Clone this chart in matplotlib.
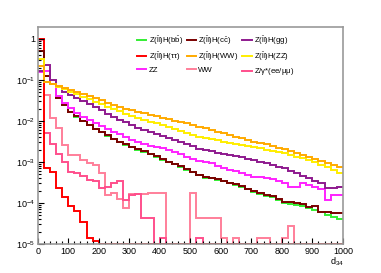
import numpy as np
import matplotlib
matplotlib.use("Agg")
import matplotlib.pyplot as plt
from matplotlib.ticker import FixedLocator, FuncFormatter, MultipleLocator
from matplotlib.lines import Line2D

plt.rcParams['font.family'] = ['Liberation Sans', 'DejaVu Sans']
plt.rcParams['mathtext.fontset'] = 'custom'
plt.rcParams['mathtext.rm'] = 'Liberation Sans'
plt.rcParams['mathtext.it'] = 'Liberation Sans'
plt.rcParams['mathtext.sf'] = 'Liberation Sans'

# ---- data: 50 bins of width 20 on d34 in [0, 1000] ----
bin_edges = np.arange(0, 1001, 20)

zh_bb = [0.51, 0.126, 0.0794, 0.0355, 0.0240, 0.0166, 0.0126, 0.0100, 0.00794, 0.00631,
         0.00525, 0.00437, 0.00363, 0.00302, 0.00263, 0.00229, 0.00200, 0.00178, 0.00155, 0.00135,
         0.00115, 0.00100, 0.000870, 0.000760, 0.000646, 0.000562, 0.000479, 0.000417, 0.000398, 0.000372,
         0.000339, 0.000302, 0.000282, 0.000251, 0.000214, 0.000191, 0.000170, 0.000151, 0.000141, 0.000120,
         0.000100, 0.0000955, 0.0000912, 0.0000851, 0.0000741, 0.0000661, 0.0000589, 0.0000525, 0.0000457, 0.0000398]
zh_cc = [0.50, 0.126, 0.0794, 0.0363, 0.0245, 0.0170, 0.0129, 0.0102, 0.00813, 0.00646,
         0.00537, 0.00447, 0.00372, 0.00309, 0.00269, 0.00234, 0.00204, 0.00182, 0.00158, 0.00138,
         0.00118, 0.00102, 0.000890, 0.000780, 0.000660, 0.000575, 0.000490, 0.000427, 0.000407, 0.000380,
         0.000347, 0.000309, 0.000288, 0.000257, 0.000219, 0.000195, 0.000174, 0.000155, 0.000145, 0.000126,
         0.000107, 0.000105, 0.000100, 0.0000933, 0.0000813, 0.0000832, 0.0000617, 0.0000589, 0.0000575, 0.0000575]
zh_gg = [0.166, 0.234, 0.0977, 0.0676, 0.0513, 0.0427, 0.0363, 0.0309, 0.0263, 0.0219,
         0.0182, 0.0151, 0.0126, 0.0107, 0.00933, 0.00794, 0.00676, 0.00603, 0.00537, 0.00479,
         0.00427, 0.00380, 0.00339, 0.00302, 0.00269, 0.00240, 0.00209, 0.00195, 0.00182, 0.00170,
         0.00158, 0.00148, 0.00138, 0.00129, 0.00120, 0.00112, 0.00102, 0.000933, 0.000851, 0.000776,
         0.000708, 0.000617, 0.000537, 0.000468, 0.000398, 0.000347, 0.000302, 0.000229, 0.000234, 0.000240]
zh_tautau = [0.999, 0.000708, 0.000575, 0.000229, 0.000141, 0.0000851, 0.0000631, 0.0000347, 0.0000138, 0.0000120,
             0, 0, 0, 0, 0, 0, 0, 0, 0, 0,
             0, 0, 0, 0, 0, 0, 0, 0, 0, 0,
             0, 0, 0, 0, 0, 0, 0, 0, 0, 0,
             0, 0, 0, 0, 0, 0, 0, 0, 0, 0]
zh_ww = [0.214, 0.0912, 0.0794, 0.0708, 0.0631, 0.0562, 0.0501, 0.0447, 0.0398, 0.0355,
         0.0316, 0.0282, 0.0251, 0.0224, 0.0200, 0.0182, 0.0166, 0.0155, 0.0141, 0.0132,
         0.0120, 0.0112, 0.0102, 0.00933, 0.00871, 0.00794, 0.00724, 0.00661, 0.00603, 0.00550,
         0.00501, 0.00457, 0.00417, 0.00380, 0.00347, 0.00316, 0.00295, 0.00269, 0.00245, 0.00224,
         0.00204, 0.00186, 0.00170, 0.00151, 0.00135, 0.00120, 0.00107, 0.000955, 0.000851, 0.000741]
zh_zz = [0.316, 0.0871, 0.0776, 0.0676, 0.0589, 0.0513, 0.0447, 0.0389, 0.0339, 0.0295,
         0.0257, 0.0224, 0.0200, 0.0174, 0.0151, 0.0132, 0.0117, 0.0107, 0.00955, 0.00871,
         0.00776, 0.00708, 0.00631, 0.00575, 0.00513, 0.00468, 0.00417, 0.00389, 0.00363, 0.00339,
         0.00316, 0.00295, 0.00275, 0.00263, 0.00245, 0.00229, 0.00214, 0.00200, 0.00186, 0.00174,
         0.00162, 0.00148, 0.00135, 0.00123, 0.00112, 0.000977, 0.000851, 0.000741, 0.000646, 0.000550]
zz = [0.158, 0.166, 0.0794, 0.0417, 0.0282, 0.0209, 0.0158, 0.0126, 0.0105, 0.00871,
      0.00741, 0.00631, 0.00550, 0.00479, 0.00417, 0.00339, 0.00302, 0.00275, 0.00251, 0.00234,
      0.00214, 0.00195, 0.00178, 0.00155, 0.00135, 0.00120, 0.00105, 0.00100, 0.000933, 0.000813,
      0.000724, 0.000631, 0.000589, 0.000537, 0.000490, 0.000437, 0.000427, 0.000398, 0.000380, 0.000347,
      0.000316, 0.000251, 0.000251, 0.000316, 0.000282, 0.000251, 0.000224, 0.000117, 0.000158, 0.000158]
ww = [0.95, 0.0427, 0.0117, 0.00661, 0.00257, 0.00148, 0.00148, 0.00112, 0.000933, 0.000851,
      0.000525, 0.000158, 0.000178, 0.000126, 0.0000741, 0.000170, 0.000170, 0.000170, 0.000174, 0.000174,
      0.000174, 0, 0, 0, 0, 0.000174, 0.0000427, 0.0000427, 0.0000427, 0.0000427,
      0.0000138, 0, 0.0000138, 0, 0, 0, 0.0000138, 0.0000138, 0, 0,
      0.0000138, 0.0000282, 0, 0, 0, 0, 0, 0, 0, 0]
zgamma = [1.0, 0.00501, 0.00282, 0.00158, 0.00100, 0.000575, 0.000525, 0.000447, 0.000363, 0.000339,
          0.000229, 0.000251, 0.000302, 0.000339, 0.000117, 0.000158, 0.000170, 0.0000427, 0.0000427, 0,
          0.0000138, 0, 0, 0, 0, 0, 0.0000138, 0, 0, 0,
          0, 0, 0, 0, 0, 0, 0, 0, 0, 0,
          0, 0, 0, 0, 0, 0, 0, 0, 0, 0]

series = [
    (r"Z($\bar{l}l$)H($b\bar{b}$)", zh_bb, "#33ee33"),
    (r"Z($\bar{l}l$)H($c\bar{c}$)", zh_cc, "#7a0000"),
    (r"Z($\bar{l}l$)H(gg)", zh_gg, "#8e1a8e"),
    (r"Z($\bar{l}l$)H($\tau\tau$)", zh_tautau, "#ff0000"),
    (r"Z($\bar{l}l$)H(WW)", zh_ww, "#ffaa00"),
    (r"Z($\bar{l}l$)H(ZZ)", zh_zz, "#ffee00"),
    ("ZZ", zz, "#ff22ff"),
    ("WW", ww, "#ff7f9a"),
    (r"Z/$\gamma$*(ee/$\mu\mu$)", zgamma, "#ff4f8c"),
]

YMIN, YMAX = 1e-5, 1.95

fig = plt.figure(figsize=(3.81, 2.73), dpi=100)
ax = fig.add_axes([0.099, 0.106, 0.801, 0.795])

draw_order = [7, 8, 3, 0, 1, 6, 2, 5, 4]
for i in draw_order:
    lab, vals, col = series[i]
    v = np.maximum(np.asarray(vals, float), YMIN)
    ax.stairs(v, bin_edges, color=col, lw=1.4, baseline=None)

ax.set_yscale('log')
ax.set_xlim(0, 1000)
ax.set_ylim(YMIN, YMAX)

ax.xaxis.set_major_locator(MultipleLocator(100))
ax.xaxis.set_minor_locator(MultipleLocator(20))
ax.yaxis.set_major_locator(FixedLocator([1e-5, 1e-4, 1e-3, 1e-2, 1e-1, 1]))
ax.yaxis.set_minor_locator(FixedLocator([m * 10.0**e for e in range(-5, 1) for m in range(2, 10)]))

def yfmt(v, pos):
    e = int(round(np.log10(v)))
    if e == 0:
        return "1"
    return r"$10^{%d}$" % e

ax.yaxis.set_major_formatter(FuncFormatter(yfmt))
ax.tick_params(which='both', direction='in', top=False, right=False, labelsize=6.5, color='black', width=0.8)
ax.tick_params(which='major', length=4.5, pad=2)
ax.tick_params(which='minor', length=2.2)
for s in ax.spines.values():
    s.set_color('#999999')
    s.set_linewidth(1.2)

fig.text(0.885, 0.04, r"d$_{34}$", fontsize=6.5, ha='center', va='center')

handles = [Line2D([], [], color=c, lw=1.4) for _, _, c in series]
labels = [l for l, _, _ in series]
# row-major order for 3 columns
order = [0, 3, 6, 1, 4, 7, 2, 5, 8]
leg = ax.legend([handles[i] for i in order], [labels[i] for i in order], ncol=3,
                loc='upper left', bbox_to_anchor=(0.325, 0.965), frameon=False, fontsize=5.6,
                handlelength=1.2, handletextpad=0.3, columnspacing=0.5, labelspacing=0.45,
                borderaxespad=0.0, borderpad=0.0)

fig.savefig("out.png", dpi=100)
